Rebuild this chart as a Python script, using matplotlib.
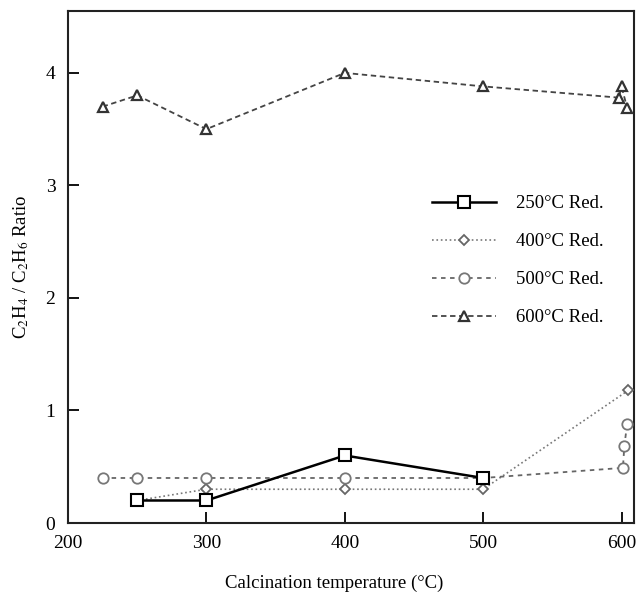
import matplotlib
matplotlib.use("Agg")
from matplotlib import pyplot as plt

plt.rcParams['font.family'] = ['Liberation Serif', 'DejaVu Serif']
plt.rcParams['mathtext.fontset'] = 'stix'

# 250 C reduction
x250 = [250, 300, 400, 500]
y250 = [0.2, 0.2, 0.6, 0.4]

# 400 C reduction
x400 = [250, 300, 400, 500, 605]
y400 = [0.2, 0.3, 0.3, 0.3, 1.18]

# 500 C reduction
x500 = [225, 250, 300, 400, 500, 601, 602, 604]
y500 = [0.4, 0.4, 0.4, 0.4, 0.4, 0.49, 0.68, 0.88]

# 600 C reduction
x600 = [225, 250, 300, 400, 500, 598, 600, 604]
y600 = [3.7, 3.8, 3.5, 4.0, 3.88, 3.78, 3.88, 3.69]

xticks = [200, 300, 400, 500, 600]
yticks = [0, 1, 2, 3, 4]

fig = plt.figure(figsize=(6.37, 5.95), dpi=100)
ax = fig.add_axes([68/637, 72/595, 566/637, 512/595])

ax.plot(x250, y250, color='black', lw=1.8, ls='-', marker='s', ms=8,
        mfc='white', mec='black', mew=1.5, label='250°C Red.', zorder=5)
ax.plot(x400, y400, color='#777777', lw=1.2, ls=':', marker='D', ms=5,
        mfc='white', mec='#666666', mew=1.3, label='400°C Red.', zorder=3)
ax.plot(x500, y500, color='#666666', lw=1.3, ls=(0, (2.5, 2.5)), marker='o', ms=7.5,
        mfc='white', mec='#777777', mew=1.3, label='500°C Red.', zorder=4)
ax.plot(x600, y600, color='#444444', lw=1.3, ls=(0, (3, 2)), marker='^', ms=7.5,
        mfc='white', mec='#333333', mew=1.6, label='600°C Red.', zorder=4)

ax.set_xlim(200, 609)
ax.set_ylim(0, 4.55)
ax.set_xticks(xticks)
ax.set_yticks(yticks)
ax.tick_params(direction='in', length=8, width=1.3, labelsize=14, pad=9)
for s in ax.spines.values():
    s.set_linewidth(1.5)
    s.set_color('#222222')

ax.set_xlabel('Calcination temperature (°C)', fontsize=13.5)
ax.xaxis.set_label_coords(0.47, -0.1)
ax.set_ylabel('C$_2$H$_4$ / C$_2$H$_6$ Ratio', fontsize=13.5)
ax.yaxis.set_label_coords(-0.065, 0.5)

ax.legend(loc='upper left', bbox_to_anchor=(432/637, 1 - 195/595),
          bbox_transform=fig.transFigure, frameon=False, fontsize=13.5,
          handlelength=3.4, handletextpad=1.1, labelspacing=1.12,
          borderpad=0, borderaxespad=0)

fig.savefig('out.png', dpi=100)
